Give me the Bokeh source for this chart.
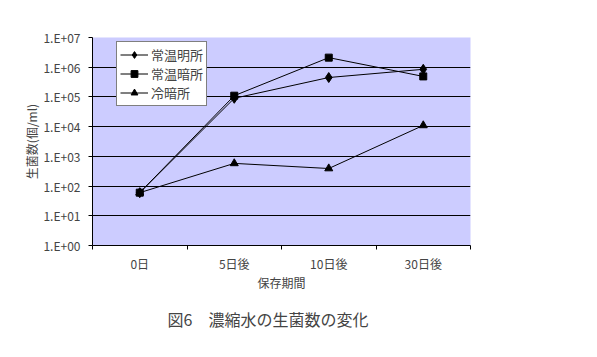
from bokeh.plotting import figure
from bokeh.models import FixedTicker, CustomJSTickFormatter, Range1d, Legend, LegendItem, Title
from bokeh.embed import file_html
from bokeh.resources import INLINE

categories = ["0日", "5日後", "10日後", "30日後"]
series_names = ["常温明所", "常温暗所", "冷暗所"]
jomei = [60, 9.0e4, 4.5e5, 8.5e5]      # 常温明所
joan = [60, 1.1e5, 2.1e6, 4.9e5]       # 常温暗所
reian = [60, 580, 390, 1.1e4]          # 冷暗所
y_ticks = [1, 10, 100, 1e3, 1e4, 1e5, 1e6, 1e7]
x_title = "保存期間"
y_title = "生菌数(個/ml)"
chart_title = "図6　濃縮水の生菌数の変化"

FONT = "Noto Sans CJK JP"

xs = [i + 0.5 for i in range(len(categories))]

p = figure(width=597, height=357,
           x_range=Range1d(0, len(categories)), y_range=Range1d(y_ticks[0], y_ticks[-1]),
           y_axis_type="log", output_backend="svg", toolbar_location=None,
           min_border_left=92, min_border_right=127, min_border_top=37, min_border_bottom=112)

p.background_fill_color = "#CCCCFF"
p.border_fill_color = "white"
p.outline_line_color = None

# x axis
xa = p.xaxis[0]
xa.ticker = FixedTicker(ticks=xs, minor_ticks=list(range(len(categories) + 1)))
xa.formatter = CustomJSTickFormatter(args=dict(labels=categories),
                                     code="return labels[Math.floor(tick)];")
xa.major_tick_line_color = None
xa.major_tick_out = 4
xa.major_tick_in = 0
xa.minor_tick_line_color = "black"
xa.minor_tick_out = 4
xa.minor_tick_in = 0
xa.axis_line_color = "black"
xa.major_label_text_font = FONT
xa.major_label_text_font_size = "12px"
xa.major_label_standoff = 5
xa.axis_label = x_title
xa.axis_label_text_font = FONT
xa.axis_label_text_font_size = "12px"
xa.axis_label_text_font_style = "normal"
xa.axis_label_standoff = -1

# y axis
ya = p.yaxis[0]
ya.ticker = FixedTicker(ticks=y_ticks, minor_ticks=[])
ya.formatter = CustomJSTickFormatter(
    code="var e = Math.round(Math.log10(tick)); return '1.E' + (e < 0 ? '-' : '+') + String(Math.abs(e)).padStart(2, '0');")
ya.major_tick_line_color = "black"
ya.major_tick_out = 4
ya.major_tick_in = 0
ya.minor_tick_line_color = None
ya.axis_line_color = "black"
ya.major_label_text_font = FONT
ya.major_label_text_font_size = "12px"
ya.major_label_standoff = 8
ya.axis_label = y_title
ya.axis_label_text_font = FONT
ya.axis_label_text_font_size = "12px"
ya.axis_label_text_font_style = "normal"
ya.axis_label_standoff = 0

p.xgrid.visible = False
p.ygrid.grid_line_color = "black"
p.ygrid.grid_line_alpha = 1
p.ygrid.grid_line_width = 1

items = []
markers = ["diamond", "square", "triangle"]
sizes = [10, 7, 8]
for name, vals, m, s in zip(series_names, [jomei, joan, reian], markers, sizes):
    l = p.line(xs, vals, line_color="black", line_width=1)
    sc = p.scatter(xs, vals, marker=m, size=s, fill_color="black", line_color="black")
    items.append(LegendItem(label=name, renderers=[l, sc]))

legend = Legend(items=items, location=(24, 139))
legend.label_text_font = FONT
legend.label_text_font_size = "13px"
legend.padding = 3
legend.spacing = 0
legend.margin = 0
legend.label_height = 17
legend.glyph_height = 17
legend.glyph_width = 28
legend.label_standoff = 3
legend.border_line_color = "black"
legend.border_line_width = 1
legend.background_fill_color = "white"
legend.background_fill_alpha = 1
p.add_layout(legend, "center")

t = Title(text=chart_title, align="left", text_font=FONT, text_font_size="16px",
          text_font_style="normal", standoff=22, offset=75)
p.add_layout(t, "below")

open("out.html", "w").write(file_html(p, INLINE))
